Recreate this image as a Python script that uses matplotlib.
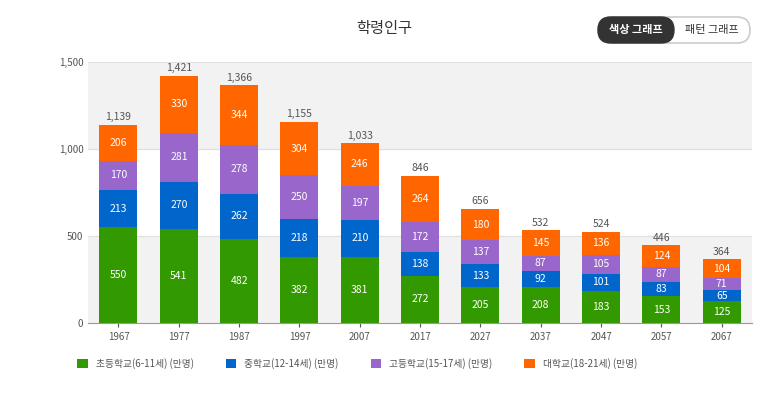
import numpy as np
import matplotlib.pyplot as plt
from matplotlib.patches import FancyBboxPatch

plt.rcParams['font.family'] = ['Noto Sans CJK KR', 'DejaVu Sans']

years = ['1967', '1977', '1987', '1997', '2007', '2017', '2027', '2037', '2047', '2057', '2067']
elem = [550, 541, 482, 382, 381, 272, 205, 208, 183, 153, 125]
middle = [213, 270, 262, 218, 210, 138, 133, 92, 101, 83, 65]
high = [170, 281, 278, 250, 197, 172, 137, 87, 105, 87, 71]
univ = [206, 330, 344, 304, 246, 264, 180, 145, 136, 124, 104]
totals = [1139, 1421, 1366, 1155, 1033, 846, 656, 532, 524, 446, 364]

labels = ['초등학교(6-11세) (만명)', '중학교(12-14세) (만명)', '고등학교(15-17세) (만명)', '대학교(18-21세) (만명)']
colors = ['#339900', '#0066cc', '#9966cc', '#ff6600']

fig = plt.figure(figsize=(7.68, 4.0), dpi=100)
ax = fig.add_axes([0.115, 0.1925, 0.864, 0.6525])

x = np.arange(len(years))
ax.axhspan(0, 500, color='#f2f2f2', zorder=0)
ax.axhspan(1000, 1500, color='#f2f2f2', zorder=0)
for yv in [500, 1000, 1500]:
    ax.axhline(yv, color='#e0e0e0', lw=0.8, zorder=0)

bottom = np.zeros(len(years))
for vals, c, lab in zip([elem, middle, high, univ], colors, labels):
    vals = np.array(vals)
    ax.bar(x, vals, 0.63, bottom=bottom, color=c, label=lab, zorder=2)
    for xi, b, v in zip(x, bottom, vals):
        ax.text(xi, b + v / 2, str(v), ha='center', va='center', color='white',
                fontsize=7.5, zorder=3)
    bottom += vals
for xi, t in zip(x, totals):
    ax.text(xi, t + 15, f'{t:,}', ha='center', va='bottom', color='#555555', fontsize=7.5)

ax.set_xlim(-0.5, len(years) - 0.5)
ax.set_ylim(0, 1500)
ax.set_xticks(x, years)
ax.set_yticks([0, 500, 1000, 1500], ['0', '500', '1,000', '1,500'])
ax.tick_params(labelsize=7, colors='#555555', length=3)
ax.tick_params(axis='y', length=0)
for s in ['top', 'right', 'left']:
    ax.spines[s].set_visible(False)
ax.spines['bottom'].set_color('#999999')

fig.text(0.5, 0.93, '학령인구', ha='center', va='center', fontsize=11, color='#333333')

# toggle buttons, drawn in a pixel-space overlay axes
bx = fig.add_axes([0, 0, 1, 1], zorder=5)
bx.set_xlim(0, 768)
bx.set_ylim(400, 0)
bx.axis('off')
bx.add_patch(FancyBboxPatch((598, 17), 152, 26, boxstyle='round,pad=0,rounding_size=13',
                            fc='white', ec='#cccccc', lw=1.2))
bx.add_patch(FancyBboxPatch((598, 17), 76, 26, boxstyle='round,pad=0,rounding_size=13',
                            fc='#333333', ec='#333333', lw=1))
bx.text(636, 30, '색상 그래프', ha='center', va='center', fontsize=8, color='white', weight='bold')
bx.text(712, 30, '패턴 그래프', ha='center', va='center', fontsize=8, color='#333333')

ax.legend(loc='center left', bbox_to_anchor=(-0.03, -0.155), ncol=4, frameon=False, fontsize=7,
          handlelength=1.1, handleheight=1.1, columnspacing=3.3, labelcolor='#555555')

fig.savefig('out.png', dpi=100)
